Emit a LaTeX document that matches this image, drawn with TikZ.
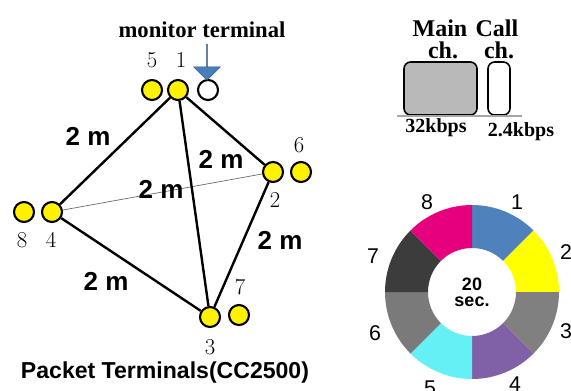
\documentclass[tikz,border=0pt]{standalone}
\usepackage{fontspec}
\setsansfont{Liberation Sans}
\newfontfamily\timesfont{Liberation Serif}
\usetikzlibrary{positioning}
\usetikzlibrary{calc}
\usetikzlibrary{shapes.arrows}
\definecolor{slot1}{RGB}{79,129,189}
\definecolor{slot2}{RGB}{255,255,0}
\definecolor{slot3}{RGB}{128,128,128}
\definecolor{slot4}{RGB}{128,96,166}
\definecolor{slot5}{RGB}{100,240,245}
\definecolor{slot6}{RGB}{122,122,122}
\definecolor{slot7}{RGB}{60,60,60}
\definecolor{slot8}{RGB}{230,0,126}
\definecolor{arrowblue}{RGB}{74,126,187}
\tikzset{
  term/.style={circle, draw, line width=1.6pt, fill=yellow, minimum size=15pt, inner sep=0pt},
  monitor/.style={circle, draw, line width=1.6pt, fill=white, minimum size=15pt, inner sep=0pt},
  link/.style={line width=1.8pt},
  dist/.style={font=\sffamily\bfseries\fontsize{19.5}{19.5}\selectfont},
  num/.style={font=\fontsize{17}{17}\selectfont},
  slotnum/.style={font=\sffamily\fontsize{16}{16}\selectfont},
  chan/.style={font=\timesfont\bfseries\fontsize{18}{18}\selectfont},
  rate/.style={font=\timesfont\bfseries\fontsize{15}{15}\selectfont}
}
\begin{document}
\begin{tikzpicture}[x=0.75pt, y=-0.75pt]
  \useasboundingbox (0,0) rectangle (571,390);
  % Terminals
  \node[term] (t5) at (152,90) {};
  \node[term] (t1) at (178,90) {};
  \node[monitor] (mon) at (208,90) {};
  \node[term] (t2) at (273,172) {};
  \node[term] (t6) at (301,172) {};
  \node[term] (t8) at (24,212) {};
  \node[term] (t4) at (52,212) {};
  \node[term] (t3) at (210,317) {};
  \node[term] (t7) at (239,315) {};
  % Terminal numbers
  \node[num] (n5) at (152,60) {5};
  \node[num] (n1) at (181,60) {1};
  \node[num] (n6) at (299,145) {6};
  \node[num] (n2) at (275,200) {2};
  \node[num] (n8) at (22,240) {8};
  \node[num] (n4) at (51,240) {4};
  \node[num] (n7) at (240,287) {7};
  \node[num] (n3) at (210,347) {3};
  % Monitor terminal
  \node[font=\timesfont\bfseries\fontsize{17}{17}\selectfont] (montxt) at (202,30) {monitor terminal};
  \node[single arrow, draw=arrowblue!70!black, fill=arrowblue, rotate=-90, minimum height=27pt,
        minimum width=20pt, single arrow head extend=5.6pt, inner sep=0pt, line width=0.4pt] (marrow) at (207,62) {};
  % Links
  \draw[gray!80!black, line width=0.5pt] (t4) -- (t2);
  \draw[link] (t1) -- (t4);
  \draw[link] (t1) -- (t3);
  \draw[link] (t1) -- (t2);
  \draw[link] (t2) -- (t3);
  \draw[link] (t4) -- (t3);
  % Distances
  \node[dist] (d14) at (88,136) {2 m};
  \node[dist] (d13) at (221,159) {2 m};
  \node[dist] (d42) at (161,189) {2 m};
  \node[dist] (d23) at (280,240) {2 m};
  \node[dist] (d43) at (106,281) {2 m};
  \node[font=\sffamily\bfseries\fontsize{17.3}{17.3}\selectfont] (title) at (165,373) {Packet Terminals(CC2500)};
  % Channels
  \node[chan] (mainlbl) at (440,28) {Main};
  \node[chan] (calllbl) at (497,28) {Call};
  \node[chan] (mainch) at (443,50) {ch.};
  \node[chan] (callch) at (499,50) {ch.};
  \draw[rounded corners=5pt, line width=1.2pt, fill=gray!55] (404,62) rectangle (477,115);
  \draw[rounded corners=5pt, line width=1.2pt, fill=white] (488,62) rectangle (510,115);
  \draw[gray!70, line width=0.8pt] (397,116) -- (522,116);
  \node[rate] (mainrate) at (436,128) {32kbps};
  \node[rate] (callrate) at (521,132) {2.4kbps};
  % Slot ring
  \coordinate (ring) at (472,292);
  \foreach \i in {1,...,8} {
    \pgfmathsetmacro{\a}{90-45*\i}
    \pgfmathsetmacro{\b}{135-45*\i}
    \fill[slot\i] ($(ring)+(\a:87*0.75pt)$) arc[start angle=\a, end angle=\b, radius=87*0.75pt]
      -- ($(ring)+(\b:44*0.75pt)$) arc[start angle=\b, end angle=\a, radius=44*0.75pt] -- cycle;
  }
  \node[font=\sffamily\bfseries\fontsize{13.5}{12}\selectfont, align=center] (period) at (ring) {20\\sec.};
  \node[slotnum] (s1) at (517,202) {1};
  \node[slotnum] (s2) at (566,252) {2};
  \node[slotnum] (s3) at (566,331) {3};
  \node[slotnum] (s4) at (515,384) {4};
  \node[slotnum] (s5) at (430,388) {5};
  \node[slotnum] (s6) at (375,333) {6};
  \node[slotnum] (s7) at (373,256) {7};
  \node[slotnum] (s8) at (427,202) {8};
\end{tikzpicture}
\end{document}
